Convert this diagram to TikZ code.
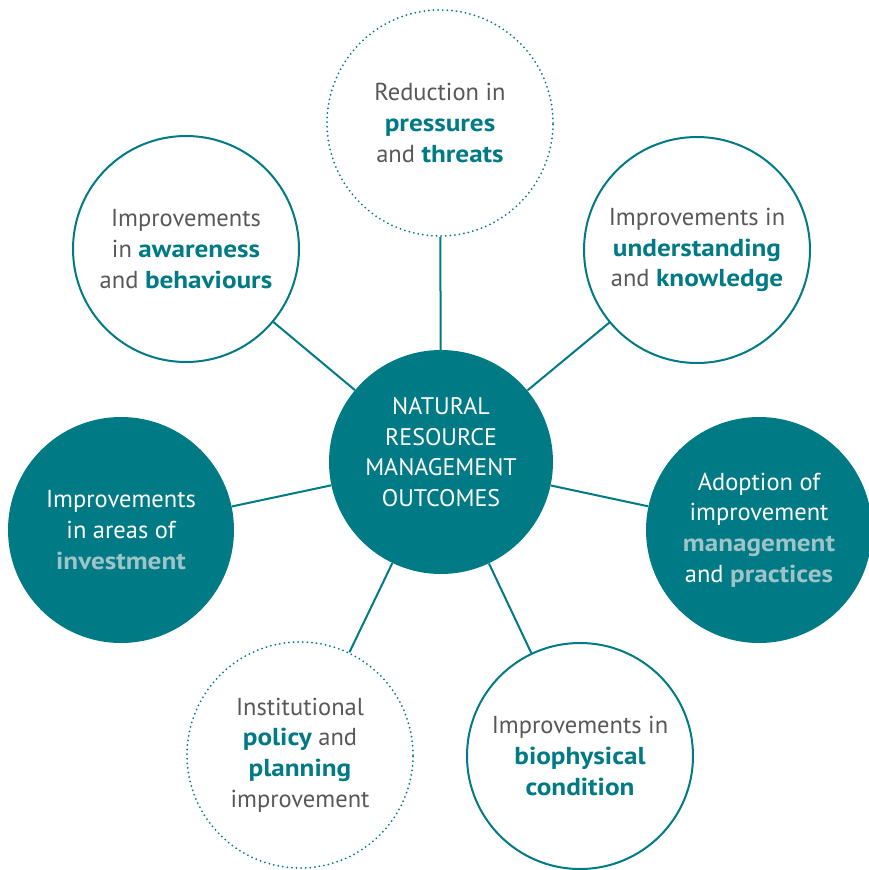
\documentclass[tikz,border=0pt]{standalone}
\usepackage{fontspec}
\setmainfont{PT Sans}[BoldFeatures={FakeStretch=1.11}]
\definecolor{nrmteal}{RGB}{0,122,132}
\definecolor{paleteal}{RGB}{158,196,201}
\definecolor{txtgray}{RGB}{88,88,90}
\newcommand\kw[1]{\textbf{\textcolor{nrmteal}{#1}}}
\newcommand\kwl[1]{\textbf{\textcolor{paleteal}{#1}}}
\begin{document}
\begin{tikzpicture}[x=1pt,y=-1pt,
  ring/.style={circle, minimum size=226pt, inner sep=0pt, align=center,
    font=\fontsize{24.5}{30.8}\selectfont, text=txtgray},
  solidring/.style={ring, draw=nrmteal, line width=2pt, fill=white},
  dotring/.style={ring, draw=nrmteal, line width=2pt, dash pattern=on 0pt off 4.6pt, line cap=round, fill=white},
  filledring/.style={ring, fill=nrmteal, text=white},
  link/.style={draw=nrmteal, line width=2pt}]
\useasboundingbox (0,0) rectangle (869,870);
\node[filledring, minimum size=224pt] (c) at (441,462) {};
\node[align=center, text=white, font=\fontsize{24}{30.5}\selectfont] (ctext) at (441,452) {NATURAL\\RESOURCE\\MANAGEMENT\\OUTCOMES};
\node[dotring] (top) at (440,123) {Reduction in\\\kw{pressures}\\and \kw{threats}};
\node[solidring] (tl) at (186,249) {Improvements\\in \kw{awareness}\\and \kw{behaviours}};
\node[solidring] (tr) at (697,250) {Improvements in\\\kw{understanding}\\and \kw{knowledge}};
\node[filledring] (lf) at (121,530) {Improvements\\in areas of\\\kwl{investment}};
\node[filledring] (rt) at (759,530) {Adoption of\\improvement\\\kwl{management}\\and \kwl{practices}};
\node[dotring] (bl) at (300,755) {Institutional\\\kw{policy} and\\\kw{planning}\\improvement};
\node[solidring] (br) at (580,756) {Improvements in\\\kw{biophysical}\\\kw{condition}};
\foreach \n in {top,tl,tr,lf,rt,bl,br} \draw[link] (c) -- (\n);
\end{tikzpicture}
\end{document}
